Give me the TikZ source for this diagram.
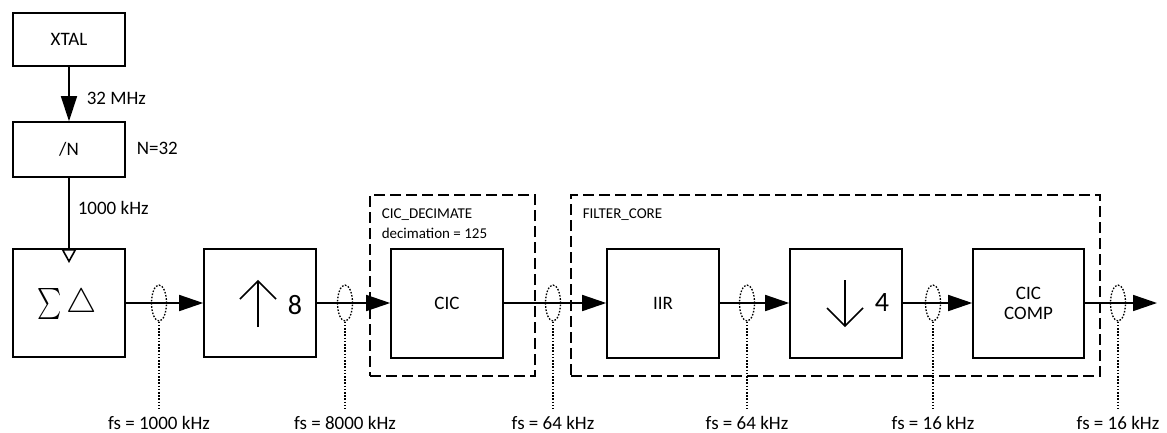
\documentclass[tikz,border=0pt]{standalone}
\usepackage{fontspec}
\setmainfont{Carlito}
\usepackage{graphicx}
\usetikzlibrary{arrows.meta,shapes.geometric}
\begin{document}
\begin{tikzpicture}[x=1pt,y=-1pt,line width=1.6pt,
  blk/.style={draw,minimum width=112pt,minimum height=109pt,inner sep=0pt,
    font=\fontsize{19}{22}\selectfont,align=center},
  grp/.style={draw,line width=1.6pt,dash pattern=on 11pt off 5pt,inner sep=0pt},
  conn/.style={-{Triangle[length=24pt,width=16pt]}},
  ell/.style={draw,ellipse,line width=1.3pt,dash pattern=on 1.6pt off 1.6pt,
    minimum width=15pt,minimum height=36pt,inner sep=0pt},
  drop/.style={line width=1.3pt,dash pattern=on 1.6pt off 1.6pt},
  fsl/.style={anchor=base,inner sep=0pt,font=\fontsize{19}{22}\selectfont},
  lbl/.style={anchor=west,inner sep=0pt,font=\fontsize{19}{22}\selectfont},
  sml/.style={anchor=west,inner sep=0pt,font=\fontsize{15}{18}\selectfont}]
\useasboundingbox (0,0) rectangle (1167,432);
% group boxes
\node[grp,minimum width=165pt,minimum height=181pt] (gcic) at (452.5,285.5) {};
\node[grp,minimum width=529pt,minimum height=181pt] (gcore) at (835.5,285.5) {};
\node[sml] (tcic) at (381,215) {CIC\_DECIMATE};
\node[sml] (tdec) at (381,233) {decimation = 125};
\node[sml] (tcore) at (582,215) {FILTER\_CORE};
% blocks
\node[blk,minimum height=53pt] (xtal) at (69,39.5) {XTAL};
\node[blk,minimum height=55pt] (ndiv) at (69,149.5) {/N};
\node[blk,minimum height=108pt] (sd) at (69,303) {};
\node[inner sep=0pt,font=\fontsize{10}{12}\selectfont] (sdsig) at (50,303.5) {\scalebox{2.3}[3.1]{$\textstyle\sum$}};
\node[inner sep=0pt,font=\fontsize{10}{12}\selectfont] (sdtri) at (82,303.5) {\scalebox{3.4}{$\triangle$}};
\node[blk,minimum height=108pt] (up) at (260,303) {};
\node[inner sep=0pt,font=\fontsize{28}{30}\selectfont] (up8) at (295,305) {8};
\draw[line width=1.6pt] (258,327) -- (258,281) coordinate (uptip);
\draw[line width=1.6pt] (240,299) -- (uptip) -- (276,299);
\node[blk] (cic) at (447,303.5) {CIC};
\node[blk] (iir) at (663,303.5) {IIR};
\node[blk] (dn) at (846,303.5) {};
\node[inner sep=0pt,font=\fontsize{28}{30}\selectfont] (dn4) at (882,303) {4};
\draw[line width=1.6pt] (845,280) -- (845,326) coordinate (dntip);
\draw[line width=1.6pt] (827,308) -- (dntip) -- (863,308);
\node[blk,minimum width=111pt] (comp) at (1028.5,303.5) {CIC\\[-2pt]COMP};
% clock path
\draw[-{Triangle[length=25pt,width=16pt]}] (xtal.south) -- (ndiv.north);
\coordinate (sdin) at (69,263);
\draw[-{Triangle[length=14pt,width=15pt,fill=white]}] (ndiv.south) -- (sdin);
\node[lbl] (l32) at (86,98) {32 MHz};
\node[lbl] (lN) at (136,148) {N=32};
\node[lbl] (l1000) at (77,208) {1000 kHz};
% signal path
\coordinate (out) at (1157,303);
\draw[conn] (sd.east) -- (sd.east -| up.west);
\draw[conn] (up.east) -- (up.east -| cic.west);
\draw[conn] (sd.east -| cic.east) -- (sd.east -| iir.west);
\draw[conn] (sd.east -| iir.east) -- (sd.east -| dn.west);
\draw[conn] (sd.east -| dn.east) -- (sd.east -| comp.west);
\draw[conn] (sd.east -| comp.east) -- (out);
% rate markers
\node[ell] (e1) at (159,303) {};
\node[ell] (e2) at (345,303) {};
\node[ell] (e3) at (553,303) {};
\node[ell] (e4) at (747,303) {};
\node[ell] (e5) at (933,303) {};
\node[ell] (e6) at (1118,303) {};
\node[fsl] (f1) at (159,429) {fs = 1000 kHz};
\node[fsl] (f2) at (345,429) {fs = 8000 kHz};
\node[fsl] (f3) at (553,429) {fs = 64 kHz};
\node[fsl] (f4) at (747,429) {fs = 64 kHz};
\node[fsl] (f5) at (933,429) {fs = 16 kHz};
\node[fsl] (f6) at (1118,429) {fs = 16 kHz};
\foreach \i in {1,...,6} {
  \draw[drop] (e\i.south) -- ([yshift=6pt]f\i.north);
}
\end{tikzpicture}
\end{document}
